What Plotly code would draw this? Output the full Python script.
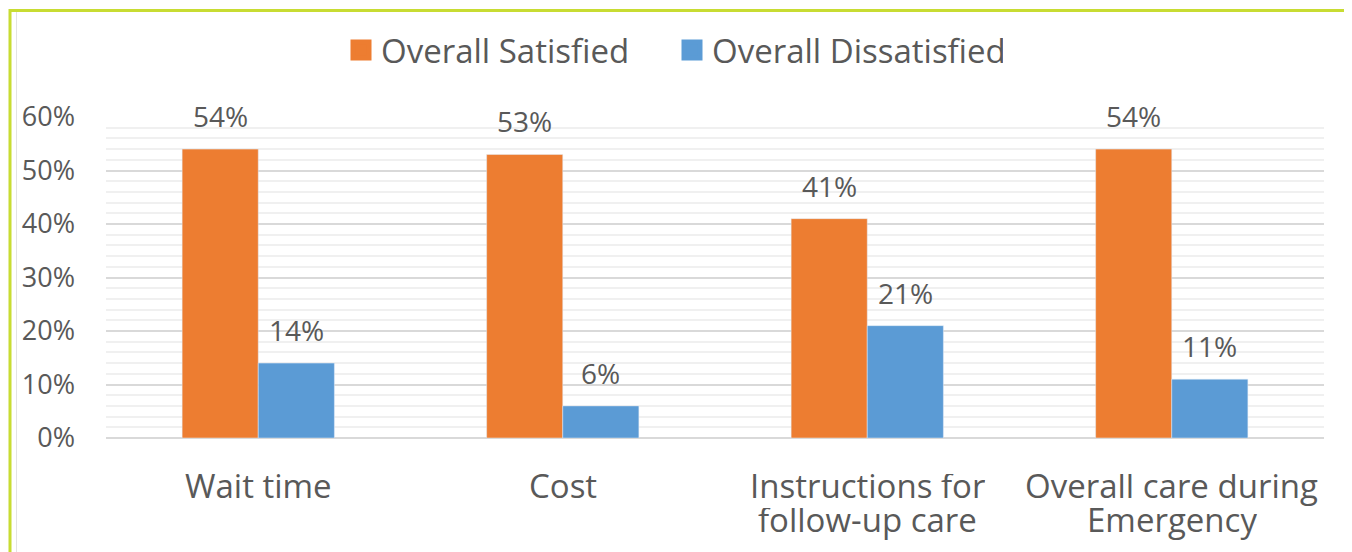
import plotly.graph_objects as go

categories = ["Wait time", "Cost", "Instructions for<br>follow-up care", "Overall care during<br>Emergency"]
satisfied = [0.54, 0.53, 0.41, 0.54]
dissatisfied = [0.14, 0.06, 0.21, 0.11]
series_names = ["Overall Satisfied", "Overall Dissatisfied"]
tick_vals = [0, 0.1, 0.2, 0.3, 0.4, 0.5, 0.6]
tick_text = ["0%", "10%", "20%", "30%", "40%", "50%", "60%"]

ORANGE = "#ED7D31"
BLUE = "#5B9BD5"
TXT = "#595959"
FONT = "Open Sans"

# page has an 8px body margin; lay out so the visible picture lines up
OFF = 8
W, H = 1352, 552
ML, MT = 106 - OFF, 117 - OFF
PW, PH = 1218, 321
MR = W - ML - PW
MB = H - MT - PH
BARGAP = 0.5

def px_to_paper_x(px):
    # px: position in the visible window
    return (px - OFF - ML) / PW

def px_to_paper_y(py):
    return (MT + PH - (py - OFF)) / PH

idx = list(range(len(categories)))

fig = go.Figure()
fig.add_trace(go.Bar(x=idx, y=satisfied, name=series_names[0], marker_color=ORANGE,
                     showlegend=False))
fig.add_trace(go.Bar(x=idx, y=dissatisfied, name=series_names[1], marker_color=BLUE,
                     showlegend=False))
# legend proxies (bigger square symbols)
for nm, col in zip(series_names, [ORANGE, BLUE]):
    fig.add_trace(go.Scatter(x=[None], y=[None], mode="markers", name=nm,
                             marker=dict(symbol="square", size=16, color=col,
                                         line=dict(color=col, width=5))))

annotations = []
half = (1 - BARGAP) / 4
for i in idx:
    for vals, off in ((satisfied, -half), (dissatisfied, half)):
        annotations.append(dict(x=i + off, y=vals[i], xref="x", yref="y",
                                text=f"{round(vals[i]*100)}%", showarrow=False,
                                yanchor="middle", yshift=33,
                                font=dict(family=FONT, size=28, color=TXT)))
    lines = categories[i].split("<br>")
    for j, ln in enumerate(lines):
        annotations.append(dict(x=i, y=0, xref="x", yref="paper", text=ln,
                                showarrow=False, yanchor="middle",
                                height=34, valign="bottom",
                                yshift=-53 - 34 * j,
                                font=dict(family=FONT, size=33, color=TXT)))

shapes = [
    dict(type="rect", xref="paper", yref="paper",
         x0=px_to_paper_x(10), x1=px_to_paper_x(1350),
         y0=px_to_paper_y(620), y1=px_to_paper_y(10.5),
         line=dict(color="#C8DC32", width=3), layer="below"),
    dict(type="line", xref="paper", yref="paper",
         x0=px_to_paper_x(16.5), x1=px_to_paper_x(16.5),
         y0=px_to_paper_y(620), y1=px_to_paper_y(12),
         line=dict(color="#E3E3E3", width=1), layer="below"),
]

fig.update_layout(
    width=W, height=H,
    margin=dict(l=ML, r=MR, t=MT, b=MB),
    paper_bgcolor="white", plot_bgcolor="white",
    barmode="group", bargap=BARGAP, bargroupgap=0,
    font=dict(family=FONT, color=TXT),
    legend=dict(orientation="h", x=px_to_paper_x(672), xanchor="center",
                y=px_to_paper_y(50), yanchor="middle",
                font=dict(family=FONT, size=33, color=TXT),
                entrywidth=286, entrywidthmode="pixels",
                bgcolor="rgba(0,0,0,0)"),
    annotations=annotations,
    shapes=shapes,
)
fig.update_xaxes(range=[-0.5, len(categories) - 0.5], showticklabels=False,
                 showgrid=False, zeroline=False, showline=False, ticks="")
fig.update_yaxes(range=[0, 0.6], tickvals=tick_vals, ticktext=tick_text,
                 tickfont=dict(family=FONT, size=27, color=TXT),
                 showgrid=True, gridcolor="#D9D9D9", gridwidth=1.5,
                 zeroline=True, zerolinecolor="#D9D9D9", zerolinewidth=1.5,
                 minor=dict(dtick=0.02, showgrid=True, gridcolor="#F0F0F0", gridwidth=1.5),
                 ticks="", ticklabelstandoff=30, showline=False)

fig.write_html("out.html")
